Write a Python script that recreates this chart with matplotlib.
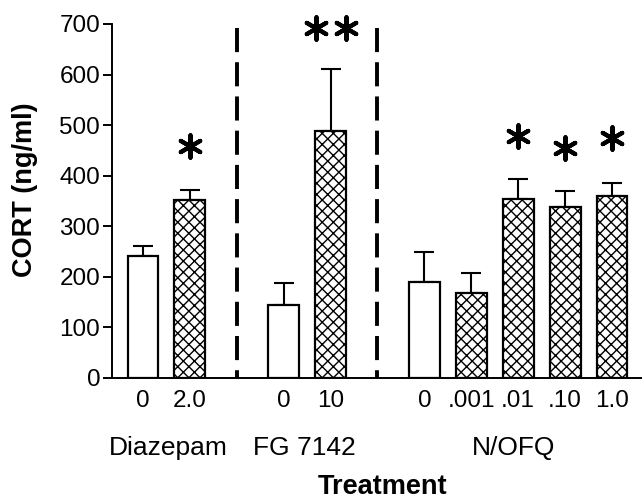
import numpy as np
import matplotlib
matplotlib.use("Agg")
import matplotlib.pyplot as plt

plt.rcParams['font.family'] = ['Liberation Sans', 'DejaVu Sans']
plt.rcParams['hatch.linewidth'] = 1.0

# data
doses = ['0', '2.0', '0', '10', '0', '.001', '.01', '.10', '1.0']
pos = [0, 1, 3, 4, 6, 7, 8, 9, 10]          # slots (2 and 5 hold dividers)
cort = [242, 352, 144, 489, 190, 169, 353, 339, 360]
sem = [18, 20, 44, 121, 60, 38, 40, 31, 25]
hatched = [False, True, False, True, False, True, True, True, True]
groups = ['Diazepam', 'FG 7142', 'N/OFQ']
group_x = [0.55, 3.45, 7.9]
dividers = [2, 5]
star_x = [1, 3.68, 4.32, 8, 9, 10]
star_y = [459, 692, 692, 478, 455, 474]

fig = plt.figure(figsize=(6.42, 4.99), dpi=100)
ax = fig.add_axes([0.1745, 0.2425, 0.8255, 0.7095])

for x, v, e, h in zip(pos, cort, sem, hatched):
    ax.errorbar(x, v, yerr=[[0], [e]], color='black', lw=1.5, capsize=7.5,
                capthick=1.5, zorder=1)
    ax.bar(x, v, width=0.66, color='white', edgecolor='black', lw=1.6,
           hatch='xxx' if h else None, zorder=2)

for d in dividers:
    ax.plot([d, d], [692, 0], color='black', lw=2.8, dashes=(6.2, 2.6),
            clip_on=False, zorder=3)

ax.scatter(star_x, star_y, marker=(6, 2, 0), s=260, color='black',
           linewidths=3.0, clip_on=False, zorder=4)

ax.set_xlim(-0.66, 10.64)
ax.set_ylim(0, 700)
ax.set_yticks(range(0, 701, 100))
ax.set_xticks(pos)
ax.set_xticklabels(doses, fontsize=17.5)
ax.tick_params(axis='x', length=0, pad=9)
ax.tick_params(axis='y', length=6.5, width=1.4, labelsize=17.5, pad=2)
for s in ['top', 'right']:
    ax.spines[s].set_visible(False)
for s in ['left', 'bottom']:
    ax.spines[s].set_linewidth(1.4)

for gx, g in zip(group_x, groups):
    ax.text(gx, -0.198, g, transform=ax.get_xaxis_transform(), ha='center',
            va='center', fontsize=19)

fig.text(383 / 642, 1 - 487 / 499, 'Treatment', ha='center', va='center',
         fontsize=19.5, fontweight='bold')
fig.text(25 / 642, 1 - 190 / 499, 'CORT (ng/ml)', ha='center', va='center',
         rotation=90, fontsize=19.5, fontweight='bold')

fig.savefig('out.png', dpi=100)
